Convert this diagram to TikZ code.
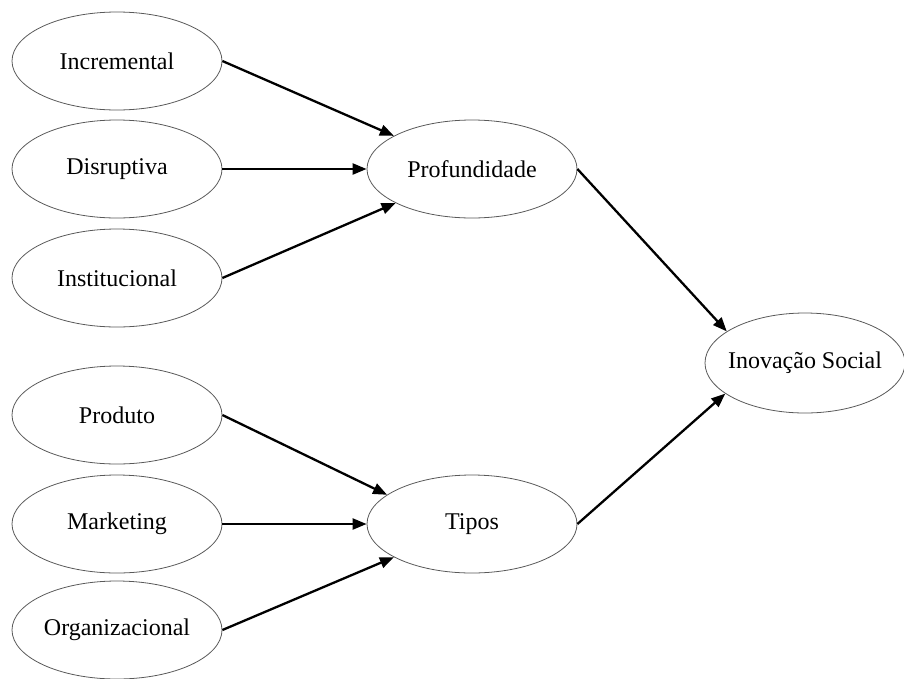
\documentclass[tikz,border=0pt]{standalone}
\usepackage{fontspec}
\setmainfont{Liberation Serif}
\usetikzlibrary{shapes.geometric,arrows.meta}
% zero-width label so the ellipse size comes only from the minimum sizes
\newcommand\flatlabel[1]{\makebox[0pt]{#1}}
\tikzset{
  concept/.style={ellipse, draw=black!65, line width=0.8pt, inner sep=0pt,
    minimum width=210pt, minimum height=98pt,
    font=\fontsize{24}{28}\selectfont},
  link/.style={line width=2.3pt, -{Triangle[length=14pt,width=11pt]}}
}
\begin{document}
\begin{tikzpicture}[x=1pt,y=-1pt]
  \useasboundingbox (0,0) rectangle (904,678);
  % depth of the innovation
  \node[concept] (inc) at (117,61)  {\flatlabel{Incremental}};
  \node[concept] (dis) at (117,169) {\flatlabel{Disruptiva}};
  \node[concept] (ins) at (117,278) {\flatlabel{Institucional}};
  % kinds of innovation
  \node[concept] (pro) at (117,415) {\flatlabel{Produto}};
  \node[concept] (mkt) at (117,524) {\flatlabel{Marketing}};
  \node[concept] (org) at (117,630) {\flatlabel{Organizacional}};
  % intermediate constructs
  \node[concept] (prof) at (472,169) {\flatlabel{Profundidade}};
  \node[concept] (tip)  at (472,524) {\flatlabel{Tipos}};
  % outcome
  \node[concept, minimum width=200pt, minimum height=100pt] (soc) at (805,363) {\flatlabel{Inovação Social}};

  \draw[link] (inc.east) -- (prof.157);
  \draw[link] (dis.east) -- (prof.west);
  \draw[link] (ins.east) -- (prof.204);
  \draw[link] (pro.east) -- (tip.161);
  \draw[link] (mkt.east) -- (tip.west);
  \draw[link] (org.east) -- (tip.203);
  \draw[link] (prof.east) -- (soc.158);
  \draw[link] (tip.east) -- (soc.201);
\end{tikzpicture}
\end{document}
